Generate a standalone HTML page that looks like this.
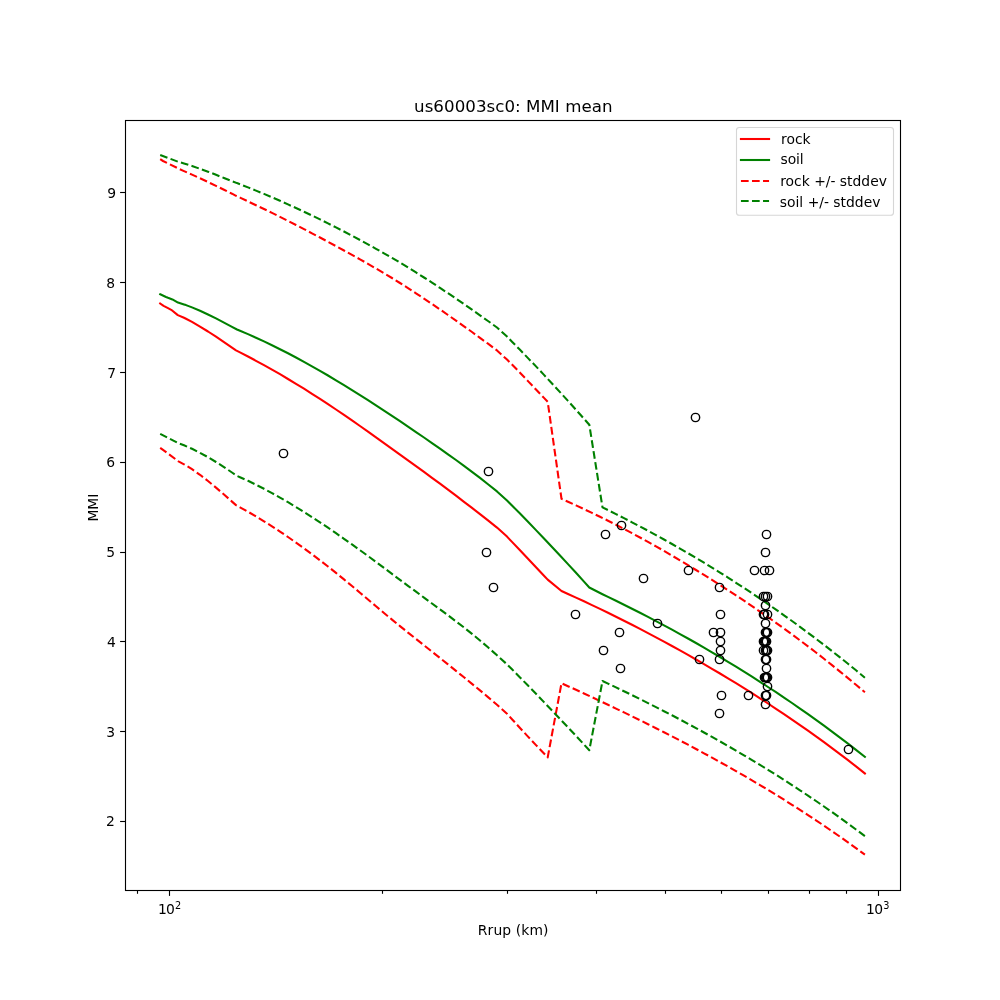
<!DOCTYPE html>
<html><head><meta charset="utf-8"><title>us60003sc0: MMI mean</title>
<style>html,body{margin:0;padding:0;background:#fff}svg{display:block}</style></head>
<body>
<svg width="1000" height="1000" viewBox="0 0 1000 1000">
<rect width="1000" height="1000" fill="#fff"/>
<g fill="none" stroke-width="2.083" stroke-linejoin="round">
<polyline stroke="#ff0000" stroke-linecap="square" points="160.2,303.5 163.6,305.8 168.0,308.1 171.2,309.8 177.8,315.1 184.0,317.8 186.0,318.8 192.0,321.9 200.0,326.6 208.0,331.5 216.0,336.7 224.0,342.1 232.0,347.7 236.0,350.4 240.0,352.4 248.0,356.5 256.0,360.8 264.0,365.2 272.0,369.6 280.0,374.2 288.0,379.0 296.0,383.8 304.0,388.7 312.0,393.8 320.0,398.9 328.0,404.2 336.0,409.5 344.0,414.9 352.0,420.4 360.0,426.0 368.0,431.7 376.0,437.4 384.0,443.1 392.0,448.8 400.0,454.6 408.0,460.3 416.0,466.1 424.0,471.9 432.0,477.8 440.0,483.7 448.0,489.7 456.0,495.7 464.0,501.8 472.0,507.9 480.0,514.1 488.0,520.4 497.0,527.6 507.0,536.6 512.0,541.9 520.0,550.3 528.0,558.8 536.0,567.3 544.0,575.7 547.7,579.6 561.5,591.0 568.0,594.0 576.0,597.6 584.0,601.3 592.0,605.1 600.0,608.9 608.0,612.8 616.0,616.7 624.0,620.7 632.0,624.8 640.0,628.9 648.0,633.1 656.0,637.3 664.0,641.6 672.0,646.0 680.0,650.4 688.0,654.9 696.0,659.5 704.0,664.1 712.0,668.8 720.0,673.5 728.0,678.4 736.0,683.2 744.0,688.2 752.0,693.2 760.0,698.3 768.0,703.5 776.0,708.8 784.0,714.1 792.0,719.6 800.0,725.1 808.0,730.7 816.0,736.4 824.0,742.2 832.0,748.2 840.0,754.2 848.0,760.2 856.0,766.4 864.9,773.5"/>
<polyline stroke="#008000" stroke-linecap="square" points="160.2,294.3 166.0,297.0 168.0,297.8 172.4,299.4 178.0,302.6 184.0,304.5 186.0,305.1 192.0,307.4 200.0,310.8 208.0,314.5 216.0,318.4 224.0,322.6 232.0,326.8 237.0,329.5 240.0,330.7 248.0,334.1 256.0,337.7 264.0,341.4 272.0,345.2 280.0,349.2 288.0,353.3 296.0,357.5 304.0,361.9 312.0,366.3 320.0,370.9 328.0,375.5 336.0,380.3 344.0,385.1 352.0,390.1 360.0,395.1 368.0,400.2 376.0,405.4 384.0,410.6 392.0,415.9 400.0,421.2 408.0,426.6 416.0,432.1 424.0,437.5 432.0,443.1 440.0,448.6 448.0,454.3 456.0,460.0 464.0,465.8 472.0,471.8 480.0,477.9 488.0,484.2 497.0,491.4 507.0,500.4 512.0,505.5 520.0,513.6 528.0,521.8 536.0,530.1 544.0,538.5 552.0,547.0 560.0,555.5 568.0,564.1 576.0,572.8 584.0,581.6 589.3,587.5 602.5,594.2 608.0,596.9 616.0,600.8 624.0,604.7 632.0,608.7 640.0,612.8 648.0,616.9 656.0,621.1 664.0,625.4 672.0,629.7 680.0,634.1 688.0,638.5 696.0,643.0 704.0,647.6 712.0,652.3 720.0,657.0 728.0,661.8 736.0,666.7 744.0,671.6 752.0,676.7 760.0,681.8 768.0,687.0 776.0,692.2 784.0,697.6 792.0,703.0 800.0,708.6 808.0,714.2 816.0,719.9 824.0,725.7 832.0,731.6 840.0,737.6 848.0,743.7 856.0,749.9 864.9,756.9"/>
<polyline stroke="#ff0000" stroke-dasharray="7.708 3.333" points="160.2,159.2 163.0,161.0 168.0,163.4 178.5,168.6 184.0,171.1 192.0,174.6 200.0,178.3 208.0,182.0 216.0,185.9 224.0,189.8 232.0,193.7 236.0,195.8 240.0,197.6 248.0,201.4 256.0,205.2 264.0,209.0 272.0,212.9 280.0,216.9 288.0,220.9 296.0,225.0 304.0,229.1 312.0,233.3 320.0,237.5 328.0,241.8 336.0,246.1 344.0,250.5 352.0,254.9 360.0,259.3 368.0,263.9 376.0,268.5 384.0,273.2 392.0,278.0 400.0,283.0 408.0,288.1 416.0,293.3 424.0,298.6 432.0,304.0 440.0,309.4 448.0,315.0 456.0,320.6 464.0,326.3 472.0,332.0 480.0,337.9 488.0,343.7 497.0,350.4 507.0,359.6 512.0,364.5 520.0,372.7 528.0,381.1 536.0,389.5 544.0,397.9 547.7,401.8 561.5,498.9 568.0,501.7 576.0,505.4 584.0,509.1 592.0,512.9 600.0,516.8 608.0,520.7 616.0,524.8 624.0,529.0 632.0,533.2 640.0,537.5 648.0,541.9 656.0,546.4 664.0,550.9 672.0,555.6 680.0,560.3 688.0,565.1 696.0,570.0 704.0,574.9 712.0,579.9 720.0,585.0 728.0,590.2 736.0,595.4 744.0,600.7 752.0,606.1 760.0,611.6 768.0,617.2 776.0,622.8 784.0,628.6 792.0,634.4 800.0,640.4 808.0,646.4 816.0,652.5 824.0,658.8 832.0,665.1 840.0,671.6 848.0,678.1 856.0,684.8 864.9,692.3"/>
<polyline stroke="#ff0000" stroke-dasharray="7.708 3.333" points="160.2,447.9 163.0,449.9 168.0,453.6 178.5,461.4 184.0,464.3 192.0,469.2 200.0,474.8 208.0,481.0 216.0,487.6 224.0,494.5 232.0,501.6 236.0,505.1 240.0,507.3 248.0,511.7 256.0,516.4 264.0,521.3 272.0,526.3 280.0,531.6 288.0,537.0 296.0,542.6 304.0,548.3 312.0,554.3 320.0,560.3 328.0,566.5 336.0,572.9 344.0,579.4 352.0,586.0 360.0,592.7 368.0,599.5 376.0,606.3 384.0,613.0 392.0,619.6 400.0,626.1 408.0,632.6 416.0,638.9 424.0,645.3 432.0,651.7 440.0,658.0 448.0,664.4 456.0,670.9 464.0,677.3 472.0,683.9 480.0,690.4 488.0,697.1 497.0,704.7 507.0,713.7 512.0,719.2 520.0,728.0 528.0,736.6 536.0,745.1 544.0,753.5 547.7,757.4 561.5,683.2 568.0,686.2 576.0,689.8 584.0,693.5 592.0,697.2 600.0,701.0 608.0,704.8 616.0,708.6 624.0,712.4 632.0,716.3 640.0,720.2 648.0,724.2 656.0,728.2 664.0,732.3 672.0,736.4 680.0,740.5 688.0,744.7 696.0,749.0 704.0,753.3 712.0,757.6 720.0,762.1 728.0,766.5 736.0,771.1 744.0,775.7 752.0,780.3 760.0,785.1 768.0,789.9 776.0,794.8 784.0,799.7 792.0,804.8 800.0,809.9 808.0,815.1 816.0,820.3 824.0,825.7 832.0,831.2 840.0,836.7 848.0,842.4 856.0,848.1 864.9,854.7"/>
<polyline stroke="#008000" stroke-dasharray="7.708 3.333" points="160.2,155.0 168.0,157.9 178.5,161.9 184.0,163.5 192.0,166.0 200.0,168.8 208.0,171.7 216.0,174.8 224.0,178.0 232.0,181.1 237.0,183.1 240.0,184.2 248.0,187.4 256.0,190.6 264.0,193.9 272.0,197.3 280.0,200.8 288.0,204.4 296.0,208.0 304.0,211.7 312.0,215.5 320.0,219.4 328.0,223.4 336.0,227.4 344.0,231.5 352.0,235.7 360.0,240.0 368.0,244.3 376.0,248.8 384.0,253.3 392.0,257.9 400.0,262.6 408.0,267.5 416.0,272.4 424.0,277.5 432.0,282.6 440.0,287.9 448.0,293.2 456.0,298.6 464.0,304.1 472.0,309.7 480.0,315.3 488.0,321.0 497.0,327.5 507.0,336.6 512.0,341.7 520.0,349.8 528.0,358.1 536.0,366.4 544.0,374.9 552.0,383.5 560.0,392.1 568.0,400.9 576.0,409.8 584.0,418.7 589.3,424.7 602.5,507.4 608.0,510.1 616.0,514.1 624.0,518.1 632.0,522.3 640.0,526.5 648.0,530.7 656.0,535.1 664.0,539.5 672.0,544.0 680.0,548.6 688.0,553.2 696.0,557.9 704.0,562.7 712.0,567.6 720.0,572.6 728.0,577.6 736.0,582.8 744.0,588.0 752.0,593.2 760.0,598.6 768.0,604.1 776.0,609.6 784.0,615.3 792.0,621.0 800.0,626.8 808.0,632.8 816.0,638.8 824.0,644.9 832.0,651.1 840.0,657.4 848.0,663.8 856.0,670.3 864.9,677.7"/>
<polyline stroke="#008000" stroke-dasharray="7.708 3.333" points="160.2,433.8 168.0,437.9 178.5,443.3 184.0,445.3 192.0,448.8 200.0,452.8 208.0,457.2 216.0,462.0 224.0,467.1 232.0,472.5 237.0,475.9 240.0,477.2 248.0,480.8 256.0,484.7 264.0,488.8 272.0,493.1 280.0,497.6 288.0,502.2 296.0,507.0 304.0,512.0 312.0,517.1 320.0,522.3 328.0,527.7 336.0,533.2 344.0,538.8 352.0,544.4 360.0,550.2 368.0,556.0 376.0,561.9 384.0,567.9 392.0,573.9 400.0,579.9 408.0,585.8 416.0,591.7 424.0,597.6 432.0,603.5 440.0,609.4 448.0,615.3 456.0,621.4 464.0,627.5 472.0,633.9 480.0,640.5 488.0,647.3 497.0,655.3 507.0,664.3 512.0,669.3 520.0,677.4 528.0,685.6 536.0,693.8 544.0,702.1 552.0,710.5 560.0,718.9 568.0,727.3 576.0,735.9 584.0,744.5 589.3,750.2 602.5,681.0 608.0,683.6 616.0,687.4 624.0,691.3 632.0,695.1 640.0,699.1 648.0,703.1 656.0,707.1 664.0,711.2 672.0,715.3 680.0,719.5 688.0,723.8 696.0,728.1 704.0,732.5 712.0,736.9 720.0,741.4 728.0,746.0 736.0,750.6 744.0,755.3 752.0,760.1 760.0,764.9 768.0,769.8 776.0,774.8 784.0,779.9 792.0,785.1 800.0,790.3 808.0,795.6 816.0,801.0 824.0,806.5 832.0,812.1 840.0,817.8 848.0,823.6 856.0,829.5 864.9,836.1"/>
</g>
<g fill="none" stroke="#000" stroke-width="1.389">
<circle cx="283.5" cy="453.5" r="4.167"/>
<circle cx="488.5" cy="471.5" r="4.167"/>
<circle cx="486.5" cy="552.5" r="4.167"/>
<circle cx="493.5" cy="587.5" r="4.167"/>
<circle cx="575.5" cy="614.5" r="4.167"/>
<circle cx="605.5" cy="534.5" r="4.167"/>
<circle cx="621.5" cy="525.5" r="4.167"/>
<circle cx="643.5" cy="578.5" r="4.167"/>
<circle cx="657.5" cy="623.5" r="4.167"/>
<circle cx="619.5" cy="632.5" r="4.167"/>
<circle cx="603.5" cy="650.5" r="4.167"/>
<circle cx="620.5" cy="668.5" r="4.167"/>
<circle cx="695.5" cy="417.5" r="4.167"/>
<circle cx="688.5" cy="570.5" r="4.167"/>
<circle cx="719.5" cy="587.5" r="4.167"/>
<circle cx="720.5" cy="614.5" r="4.167"/>
<circle cx="713.5" cy="632.5" r="4.167"/>
<circle cx="720.5" cy="632.5" r="4.167"/>
<circle cx="720.5" cy="641.5" r="4.167"/>
<circle cx="720.5" cy="650.5" r="4.167"/>
<circle cx="699.5" cy="659.5" r="4.167"/>
<circle cx="719.5" cy="659.5" r="4.167"/>
<circle cx="721.5" cy="695.5" r="4.167"/>
<circle cx="748.5" cy="695.5" r="4.167"/>
<circle cx="719.5" cy="713.5" r="4.167"/>
<circle cx="848.5" cy="749.5" r="4.167"/>
<circle cx="766.5" cy="534.5" r="4.167"/>
<circle cx="765.5" cy="552.5" r="4.167"/>
<circle cx="754.5" cy="570.5" r="4.167"/>
<circle cx="764.5" cy="570.5" r="4.167"/>
<circle cx="769.5" cy="570.5" r="4.167"/>
<circle cx="763.5" cy="596.5" r="4.167"/>
<circle cx="765.5" cy="596.5" r="4.167"/>
<circle cx="767.5" cy="596.5" r="4.167"/>
<circle cx="765.5" cy="605.5" r="4.167"/>
<circle cx="763.5" cy="614.5" r="4.167"/>
<circle cx="764.5" cy="614.5" r="4.167"/>
<circle cx="767.5" cy="614.5" r="4.167"/>
<circle cx="765.5" cy="623.5" r="4.167"/>
<circle cx="765.5" cy="632.5" r="4.167"/>
<circle cx="766.5" cy="632.5" r="4.167"/>
<circle cx="767.5" cy="632.5" r="4.167"/>
<circle cx="763.5" cy="641.5" r="4.167"/>
<circle cx="764.5" cy="641.5" r="4.167"/>
<circle cx="765.5" cy="641.5" r="4.167"/>
<circle cx="766.5" cy="641.5" r="4.167"/>
<circle cx="763.5" cy="650.5" r="4.167"/>
<circle cx="765.5" cy="650.5" r="4.167"/>
<circle cx="766.5" cy="650.5" r="4.167"/>
<circle cx="767.5" cy="650.5" r="4.167"/>
<circle cx="765.5" cy="659.5" r="4.167"/>
<circle cx="766.5" cy="659.5" r="4.167"/>
<circle cx="766.5" cy="668.5" r="4.167"/>
<circle cx="764.5" cy="677.5" r="4.167"/>
<circle cx="765.5" cy="677.5" r="4.167"/>
<circle cx="766.5" cy="677.5" r="4.167"/>
<circle cx="767.5" cy="677.5" r="4.167"/>
<circle cx="767.5" cy="686.5" r="4.167"/>
<circle cx="765.5" cy="695.5" r="4.167"/>
<circle cx="766.5" cy="695.5" r="4.167"/>
<circle cx="765.5" cy="704.5" r="4.167"/>
</g>
<g stroke="#000" stroke-width="1.111" fill="none">
<rect x="125.5" y="120.5" width="775" height="770"/>
<line x1="120.1" x2="125" y1="821.5" y2="821.5"/>
<line x1="120.1" x2="125" y1="731.5" y2="731.5"/>
<line x1="120.1" x2="125" y1="641.5" y2="641.5"/>
<line x1="120.1" x2="125" y1="552.5" y2="552.5"/>
<line x1="120.1" x2="125" y1="462.5" y2="462.5"/>
<line x1="120.1" x2="125" y1="372.5" y2="372.5"/>
<line x1="120.1" x2="125" y1="282.5" y2="282.5"/>
<line x1="120.1" x2="125" y1="192.5" y2="192.5"/>
<line x1="169.5" x2="169.5" y1="891" y2="895.9"/>
<line x1="878.5" x2="878.5" y1="891" y2="895.9"/>
<line x1="137.5" x2="137.5" y1="891" y2="893.8"/>
<line x1="382.5" x2="382.5" y1="891" y2="893.8"/>
<line x1="507.5" x2="507.5" y1="891" y2="893.8"/>
<line x1="596.5" x2="596.5" y1="891" y2="893.8"/>
<line x1="665.5" x2="665.5" y1="891" y2="893.8"/>
<line x1="721.5" x2="721.5" y1="891" y2="893.8"/>
<line x1="768.5" x2="768.5" y1="891" y2="893.8"/>
<line x1="809.5" x2="809.5" y1="891" y2="893.8"/>
<line x1="846.5" x2="846.5" y1="891" y2="893.8"/>
</g>
<g font-family="'DejaVu Sans', 'Liberation Sans', sans-serif" fill="#000">
<text x="513.3" y="111.8" font-size="16.667" text-anchor="middle" letter-spacing="0.035">us60003sc0: MMI mean</text>
<text x="513.2" y="934.8" font-size="13.889" text-anchor="middle" letter-spacing="0.11">Rrup (km)</text>
<text transform="translate(98,507.6) rotate(-90)" font-size="13.889" text-anchor="middle">MMI</text>
<text x="114.8" y="825.8" font-size="13.889" text-anchor="end">2</text>
<text x="115.0" y="736.8" font-size="13.889" text-anchor="end">3</text>
<text x="115.9" y="646.8" font-size="13.889" text-anchor="end">4</text>
<text x="115.0" y="556.8" font-size="13.889" text-anchor="end">5</text>
<text x="115.0" y="466.8" font-size="13.889" text-anchor="end">6</text>
<text x="116.0" y="377.8" font-size="13.889" text-anchor="end">7</text>
<text x="115.0" y="287.8" font-size="13.889" text-anchor="end">8</text>
<text x="116.0" y="197.8" font-size="13.889" text-anchor="end">9</text>
<text x="157.9 166.1" y="914.2" font-size="13.889">10</text><text x="175.1" y="908.9" font-size="9.722">2</text>
<text x="866.1 874.3" y="914.2" font-size="13.889">10</text><text x="883.2" y="908.9" font-size="9.722">3</text>
<rect x="736.5" y="127.5" width="157" height="87.8" rx="2.8" ry="2.8" fill="#fff" fill-opacity="0.8" stroke="#ccc" stroke-opacity="0.8" stroke-width="1.111"/>
<line x1="740.94" x2="769.06" y1="139.0" y2="139.0" stroke="#ff0000" stroke-width="2.083" stroke-linecap="square"/>
<text x="781.0" y="143.8" font-size="13.889" letter-spacing="0">rock</text>
<line x1="740.94" x2="769.06" y1="160.0" y2="160.0" stroke="#008000" stroke-width="2.083" stroke-linecap="square"/>
<text x="780.6" y="164.2" font-size="13.889" letter-spacing="-0.15">soil</text>
<line x1="740.94" x2="769.06" y1="181.0" y2="181.0" stroke="#ff0000" stroke-width="2.083" stroke-dasharray="7.708 3.333"/>
<text x="780.2" y="185.8" font-size="13.889" letter-spacing="0">rock +/- stddev</text>
<line x1="740.94" x2="769.06" y1="201.0" y2="201.0" stroke="#008000" stroke-width="2.083" stroke-dasharray="7.708 3.333"/>
<text x="779.8" y="206.8" font-size="13.889" letter-spacing="0">soil +/- stddev</text>
</g>
</svg>
</body></html>
